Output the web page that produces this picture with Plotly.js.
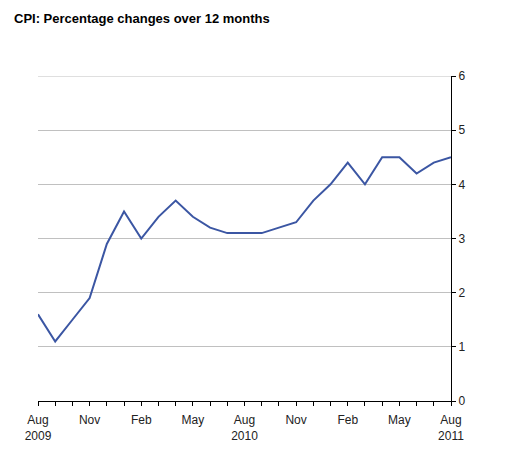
<!DOCTYPE html>
<html>
<head>
<meta charset="utf-8">
<script src="https://cdn.plot.ly/plotly-3.0.1.min.js"></script>
<style>html,body{margin:0;padding:0;background:#fff;}#chart{width:508px;height:459px;}</style>
</head>
<body>
<div id="chart"></div>
<script>
const months = ["Aug 2009","Sep 2009","Oct 2009","Nov 2009","Dec 2009","Jan 2010","Feb 2010","Mar 2010","Apr 2010","May 2010","Jun 2010","Jul 2010","Aug 2010","Sep 2010","Oct 2010","Nov 2010","Dec 2010","Jan 2011","Feb 2011","Mar 2011","Apr 2011","May 2011","Jun 2011","Jul 2011","Aug 2011"];
const cpi = [1.6,1.1,1.5,1.9,2.9,3.5,3.0,3.4,3.7,3.4,3.2,3.1,3.1,3.1,3.2,3.3,3.7,4.0,4.4,4.0,4.5,4.5,4.2,4.4,4.5];
const tickLabels = ["Aug<br>2009","","","Nov","","","Feb","","","May","","","Aug<br>2010","","","Nov","","","Feb","","","May","","","Aug<br>2011"];
const yTicks = [0,1,2,3,4,5,6];

const idx = months.map((m,i)=>i);
const yMax = yTicks[yTicks.length - 1];
Plotly.newPlot('chart', [{
  x: idx, y: cpi, type: 'scatter', mode: 'lines',
  line: {color: '#3b56a3', width: 2}, hoverinfo: 'skip'
}], {
  width: 508, height: 459,
  margin: {l: 38, r: 57, t: 76, b: 58},
  paper_bgcolor: '#fff', plot_bgcolor: '#fff',
  showlegend: false,
  title: {text: '<b>CPI: Percentage changes over 12 months</b>', x: 14/508, xanchor: 'left', y: 1 - 18/459, yanchor: 'middle', xref: 'container', yref: 'container',
    font: {family: 'Liberation Sans, Arial, sans-serif', size: 13, color: '#000'}},
  shapes: [{type: 'line', xref: 'paper', x0: 0, x1: 1, yref: 'y', y0: yMax, y1: yMax, line: {color: '#c0c0c0', width: 1}, layer: 'below'}],
  xaxis: {range: [0, 24], tickvals: idx, ticktext: tickLabels, ticks: 'outside', ticklen: 4, tickcolor: '#000', tickwidth: 1,
    ticklabelstandoff: 4,
    showline: true, linecolor: '#000', linewidth: 1, showgrid: false, zeroline: false, tickangle: 0,
    tickfont: {family: 'Liberation Sans, Arial, sans-serif', size: 12, color: '#222'}},
  yaxis: {range: [0, yMax], side: 'right', tickvals: yTicks, ticks: 'outside', ticklen: 4, tickcolor: '#000', tickwidth: 1,
    showline: true, linecolor: '#000', linewidth: 1, showgrid: true, gridcolor: '#c0c0c0', gridwidth: 1, zeroline: false,
    tickfont: {family: 'Liberation Sans, Arial, sans-serif', size: 12, color: '#222'}}
}, {staticPlot: true});
</script>
</body>
</html>
